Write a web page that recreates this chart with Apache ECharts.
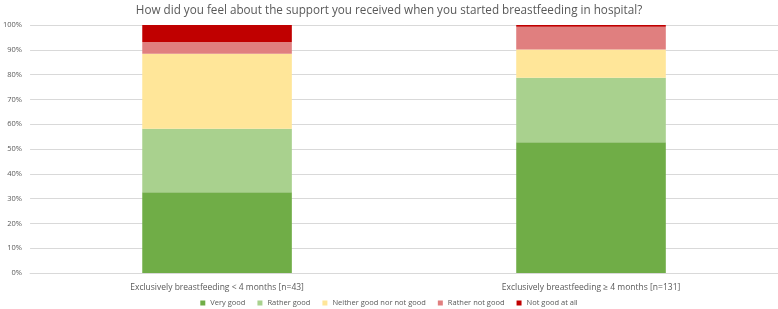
<!DOCTYPE html>
<html>
<head>
<meta charset="UTF-8">
<title>Breastfeeding support</title>
<script src="https://cdn.jsdelivr.net/npm/echarts@6/dist/echarts.min.js"></script>
</head>
<body style="margin:0">
<div id="main" style="width:778px;height:309px;"></div>
<script type="text/javascript">
// groups on the x axis
var groups = ['Exclusively breastfeeding < 4 months [n=43]', 'Exclusively breastfeeding \u2265 4 months [n=131]'];
var answers = ['Very good', 'Rather good', 'Neither good nor not good', 'Rather not good', 'Not good at all'];
// share of answers in %, per group
var veryGood = [32.6, 52.7];
var ratherGood = [25.6, 26.0];
var neither = [30.2, 11.4];
var ratherNot = [4.7, 9.2];
var notAtAll = [6.9, 0.7];
var colors = ['#70AD47', '#A9D18E', '#FFE699', '#E07F7F', '#C00000'];

var myChart = echarts.init(document.getElementById('main'));
var values = [veryGood, ratherGood, neither, ratherNot, notAtAll];
var series = answers.map(function (name, i) {
    return {
        name: name,
        type: 'bar',
        stack: 'total',
        barWidth: '40%',
        itemStyle: { color: colors[i] },
        data: values[i]
    };
});

var option = {
    animation: false,
    title: {
        text: 'How did you feel about the support you received when you started breastfeeding in hospital?',
        left: 'center',
        top: 0,
        textStyle: { fontFamily: 'Open Sans', fontSize: 11.7, fontWeight: 'normal', color: '#595959' }
    },
    legend: {
        data: answers,
        top: 299,
        padding: 0,
        itemWidth: 5,
        itemHeight: 5,
        itemGap: 12,
        icon: 'rect',
        textStyle: { fontFamily: 'Open Sans', fontSize: 7.5, color: '#595959' }
    },
    grid: { left: 26, right: 0, top: 25, bottom: 36 },
    xAxis: {
        type: 'category',
        data: groups,
        axisLine: { lineStyle: { color: '#D9D9D9' } },
        axisTick: { show: false },
        axisLabel: { fontFamily: 'Open Sans', fontSize: 8.5, color: '#595959', margin: 10 }
    },
    yAxis: {
        type: 'value',
        min: 0,
        max: 100,
        interval: 10,
        axisLine: { show: false },
        axisTick: { show: false },
        splitLine: { lineStyle: { color: '#D9D9D9' } },
        axisLabel: { formatter: '{value}%', fontFamily: 'Open Sans', fontSize: 7.5, color: '#595959', margin: 8 }
    },
    series: series
};
myChart.setOption(option);
</script>
</body>
</html>
